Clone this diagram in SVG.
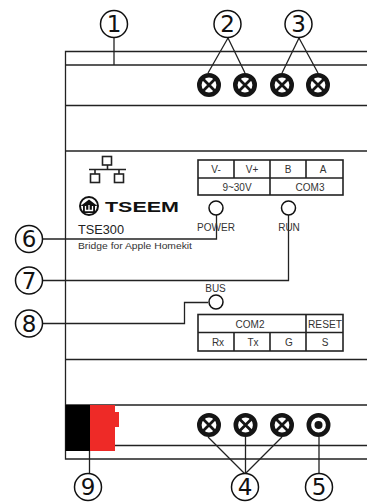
<svg xmlns="http://www.w3.org/2000/svg" width="367" height="503" viewBox="0 0 367 503">
<defs>
<style>
.ln{fill:none;stroke:#222;stroke-width:1.3}
.bd{fill:none;stroke:#222;stroke-width:1.6}
.c{fill:#fff;stroke:#111;stroke-width:1.5}
.n{font-family:"DejaVu Sans",sans-serif;font-size:23px;fill:#111;text-anchor:middle}
.t{font-family:"Liberation Sans",Arial,sans-serif;font-size:10px;fill:#333;text-anchor:middle}
.s{fill:#fff;stroke:#151515;stroke-width:4.6}
.x{stroke:#151515;stroke-width:2.8;fill:none}
</style>
<g id="xs"><circle class="s" r="9.700"/><path class="x" d="M-7-7 7 7M-7 7 7-7"/></g>
</defs>
<rect width="367" height="503" fill="#fff"/>
<g id="housing">
<path class="ln" d="M367 51.5H65.5V459H367"/>
<path class="bd" d="M65.5 65H367"/>
<path class="ln" d="M65.5 105.5H367"/>
<path class="bd" d="M65.5 151H367"/>
<path class="ln" d="M65.5 359.5H367M65.5 405H367M115 445.5H367"/>
</g>
<g id="connector-9">
<rect x="65.5" y="405" width="25" height="46" fill="#000"/>
<path d="M90 405H115V412H119V427H115V451H90Z" fill="#ee2a27"/>
</g>
<g id="connectors">
<path class="ln" d="M114 37V65M228 38 208 73M228 38 245 73M299 38 282 73M299 38 318 73"/>
<path class="ln" d="M208 437 245 474M245.500 437V474M282 437 245 474M319 437V474M89.500 451V474"/>
<path class="ln" d="M43 239H216.500V215M43 280.500H288.500V215M43 323.500H184.500V302.500H208"/>
</g>
<g id="screw-2a"><use href="#xs" x="209" y="85"/></g>
<g id="screw-2b"><use href="#xs" x="245" y="85"/></g>
<g id="screw-3a"><use href="#xs" x="282" y="85"/></g>
<g id="screw-3b"><use href="#xs" x="318" y="85"/></g>
<g id="screw-4a"><use href="#xs" x="209" y="425"/></g>
<g id="screw-4b"><use href="#xs" x="245.500" y="425"/></g>
<g id="screw-4c"><use href="#xs" x="282" y="425"/></g>
<g id="screw-5"><circle class="s" cx="318.500" cy="425" r="9.700"/><circle cx="318.500" cy="425" r="4" fill="#151515"/></g>
<g id="network-icon">
<path class="bd" d="M89 169.500H126M107.500 165V169.500M95 169.500V174M119 169.500V174"/>
<rect class="bd" x="102.500" y="156.500" width="9" height="8.500"/>
<rect class="bd" x="90.500" y="174" width="9" height="8.500"/>
<rect class="bd" x="114.500" y="174" width="9" height="8.500"/>
</g>
<g id="logo">
<circle cx="89" cy="206" r="9" fill="none" stroke="#111" stroke-width="2"/>
<path d="M80.500 206 89 199.500 97.500 206 95 206V213H83V206Z" fill="#111"/>
<path d="M85.500 206V210.500H92.500V206M89 205V210.500" fill="none" stroke="#fff" stroke-width="1.300"/>
<text x="105" y="212" font-family="'Liberation Sans',Arial,sans-serif" font-size="15" font-weight="700" fill="#111" textLength="74" lengthAdjust="spacingAndGlyphs">TSEEM</text>
</g>
<g id="product-text">
<text x="78" y="234" font-family="'Liberation Sans',Arial,sans-serif" font-size="12" fill="#222" textLength="46" lengthAdjust="spacingAndGlyphs">TSE300</text>
<text x="78" y="249" font-family="'Liberation Sans',Arial,sans-serif" font-size="9.500" fill="#333" textLength="114" lengthAdjust="spacingAndGlyphs">Bridge for Apple Homekit</text>
</g>
<g id="terminals-top">
<rect class="bd" x="198" y="160" width="145" height="35"/>
<path class="bd" d="M198 178H343M234 160V178M270 160V195M306 160V178"/>
<text class="t" x="216" y="173">V-</text><text class="t" x="252" y="173">V+</text><text class="t" x="288" y="173">B</text><text class="t" x="323" y="173">A</text>
<text class="t" x="237" y="191">9~30V</text><text class="t" x="310" y="191">COM3</text>
</g>
<g id="terminals-bottom">
<rect class="bd" x="198" y="314.500" width="145" height="36.500"/>
<path class="bd" d="M198 332.500H343M306 314.500V351M234 332.500V351M270 332.500V351"/>
<text class="t" x="250" y="328">COM2</text><text class="t" x="325" y="328" textLength="34" lengthAdjust="spacingAndGlyphs">RESET</text>
<text class="t" x="218" y="346">Rx</text><text class="t" x="253" y="346">Tx</text><text class="t" x="289" y="346">G</text><text class="t" x="325" y="346">S</text>
</g>
<g id="led-power"><circle class="c" cx="216" cy="208" r="7"/><text class="t" x="216" y="231">POWER</text></g>
<g id="led-run"><circle class="c" cx="288.500" cy="208" r="7"/><text class="t" x="289" y="231">RUN</text></g>
<g id="led-bus"><circle class="c" cx="216" cy="302" r="7"/><text class="t" x="215.500" y="292">BUS</text></g>
<g id="n1"><circle class="c" cx="114" cy="24" r="13.500"/><text class="n" x="114" y="32">1</text></g>
<g id="n2"><circle class="c" cx="227.500" cy="24" r="13.500"/><text class="n" x="227.500" y="32">2</text></g>
<g id="n3"><circle class="c" cx="298.500" cy="24" r="13.500"/><text class="n" x="298.500" y="32">3</text></g>
<g id="n6"><circle class="c" cx="29" cy="239" r="13.500"/><text class="n" x="29" y="247">6</text></g>
<g id="n7"><circle class="c" cx="29" cy="280.500" r="13.500"/><text class="n" x="29" y="289">7</text></g>
<g id="n8"><circle class="c" cx="29" cy="323.500" r="13.500"/><text class="n" x="29" y="332">8</text></g>
<g id="n9"><circle class="c" cx="88" cy="487" r="13.500"/><text class="n" x="88" y="495">9</text></g>
<g id="n4"><circle class="c" cx="245" cy="487" r="13.500"/><text class="n" x="245" y="495">4</text></g>
<g id="n5"><circle class="c" cx="319" cy="487" r="13.500"/><text class="n" x="319" y="495">5</text></g>
</svg>
